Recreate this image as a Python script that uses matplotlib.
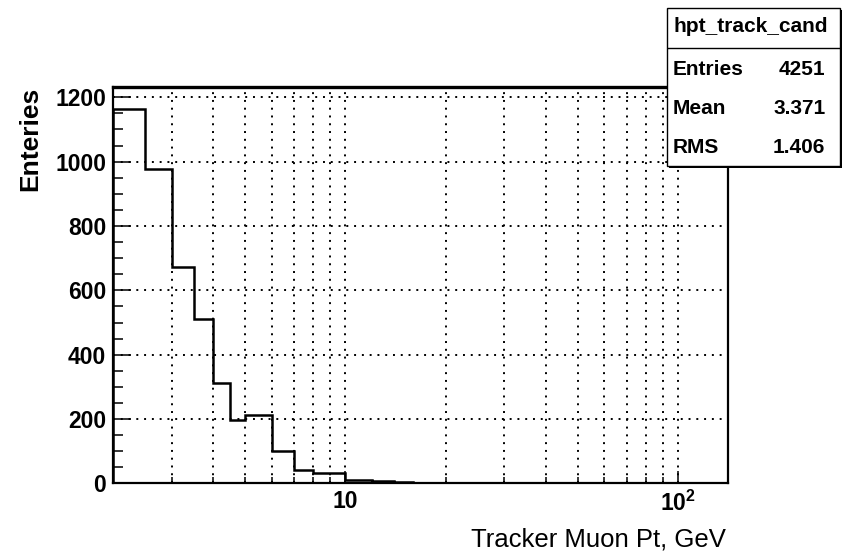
import numpy as np
import matplotlib
matplotlib.use("Agg")
import matplotlib.pyplot as plt
from matplotlib.ticker import MultipleLocator, LogLocator, NullFormatter
from matplotlib.patches import Rectangle

plt.rcParams['font.family'] = ['Liberation Sans', 'DejaVu Sans']
plt.rcParams['mathtext.fontset'] = 'custom'
plt.rcParams['mathtext.rm'] = 'Liberation Sans'
plt.rcParams['mathtext.bf'] = 'Liberation Sans:bold'

# ---------------- histogram contents ----------------
bin_edges = [2, 2.5, 3, 3.5, 4, 4.5, 5, 6, 7, 8, 10, 12, 14, 16]
bin_counts = [1164, 977, 672, 510, 313, 197, 212, 100, 43, 33, 10, 8, 6]

hist_name = "hpt_track_cand"
stat_names = ["Entries", "Mean", "RMS"]
stat_values = ["4251", "3.371", "1.406"]

x_ticks = [10, 100]
x_ticklabels = ["10", r"$\mathbf{10^{2}}$"]

# ---------------- figure ----------------
fig = plt.figure(figsize=(8.5, 5.52), dpi=100)
ax = fig.add_axes([0.1329, 0.1241, 0.7232, 0.7183])

ax.stairs(bin_counts, bin_edges, color='black', linewidth=1.8, baseline=0)

ax.set_xscale('log')
ax.set_xlim(2, 141)
ax.set_ylim(0, 1232)

ax.set_xticks(x_ticks, labels=x_ticklabels)
ax.xaxis.set_minor_locator(LogLocator(base=10, subs=np.arange(2, 10)))
ax.xaxis.set_minor_formatter(NullFormatter())
ax.yaxis.set_major_locator(MultipleLocator(200))
ax.yaxis.set_minor_locator(MultipleLocator(50))

ax.tick_params(axis='x', which='major', direction='in', length=8.6, width=1.1,
               labelsize=16.5, pad=5, top=False)
ax.tick_params(axis='x', which='minor', direction='in', length=4.3, width=1.1, top=False)
ax.tick_params(axis='y', which='major', direction='in', length=13, width=1.1,
               labelsize=16.5, pad=5, right=False)
ax.tick_params(axis='y', which='minor', direction='in', length=7, width=1.1, right=False)
for lab in ax.get_xticklabels() + ax.get_yticklabels():
    lab.set_fontweight('bold')

ax.grid(True, axis='x', which='both', color='black', linestyle=(0, (1, 3)), linewidth=1.4)
ax.grid(True, axis='y', which='major', color='black', linestyle=(0, (1, 3)), linewidth=1.4)

for side in ['left', 'right', 'bottom']:
    ax.spines[side].set_linewidth(1.6)
ax.spines['top'].set_linewidth(2.4)

ax.set_xlabel("Tracker Muon Pt, GeV", fontsize=18.5, loc='right', va='top')
ax.xaxis.set_label_coords(0.997, -0.112)
ax.set_ylabel("Enteries", fontsize=19, fontweight='bold', loc='top')
ax.yaxis.set_label_coords(-0.115, 1.0)

# ---------------- stats box ----------------
bx = fig.add_axes([0.7847, 0.6993, 0.2035, 0.2862])
bx.set_xlim(0, 1)
bx.set_ylim(0, 1)
bx.axis('off')
bx.add_patch(Rectangle((0.012, -0.014), 1.0, 1.0, facecolor='black', edgecolor='none',
                       clip_on=False, zorder=1))
bx.add_patch(Rectangle((0, 0), 1.0, 1.0, facecolor='white', edgecolor='black',
                       linewidth=1.0, clip_on=False, zorder=2))
bx.plot([0, 1], [0.747, 0.747], color='black', linewidth=1.0, zorder=3)
bx.text(0.485, 0.88, hist_name, ha='center', va='center', fontsize=15,
        fontweight='bold', zorder=4)
row_y = [0.608, 0.367, 0.12]
for name, val, yy in zip(stat_names, stat_values, row_y):
    bx.text(0.035, yy, name, ha='left', va='center', fontsize=15, fontweight='bold', zorder=4)
    bx.text(0.915, yy, val, ha='right', va='center', fontsize=15, fontweight='bold', zorder=4)

fig.savefig("out.png", dpi=100)
